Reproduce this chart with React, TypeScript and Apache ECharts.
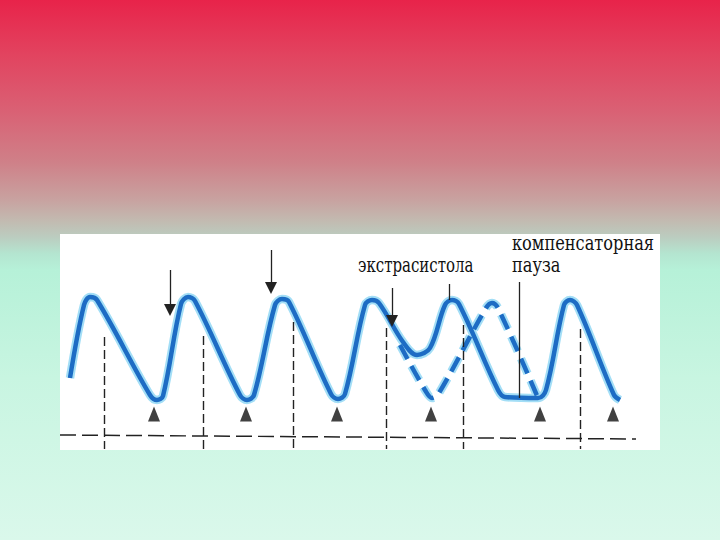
import React, { useEffect, useRef } from "react";
import * as echarts from "echarts";

const solidT = [10, 24, 30, 37, 90, 97, 103, 121, 128, 135, 180, 187, 194, 215, 222, 229, 271, 278, 285, 305, 312, 319, 343, 357, 370, 385, 392, 399, 438, 445, 478, 486, 504, 510, 517, 554, 560];
const solidV = [72, 145, 153, 150, 55, 50, 54, 146, 153, 149, 55, 50, 55, 145, 151, 148, 56, 51, 56, 145, 150, 147, 108, 95, 102, 145, 150, 146, 60, 53, 52, 60, 145, 150, 145, 55, 50];

// Expected (normal) beat, dashed
const dashT = [340, 365, 372, 379, 426, 432, 438, 478];
const dashV = [105, 60, 52, 57, 142, 147, 142, 52];

// Triangle markers under each trough
const triT = [94, 186, 277, 371, 480, 553];
const triV = [36, 36, 36, 36, 36, 36];

// Arrows (stimuli) : x, top, head
const arrowT = [110, 211, 332];
const arrowTop = [180, 200, 162];
const arrowHead = [140, 162, 129];

// Plain marker lines: x, top, bottom
const tickT = [389, 459];
const tickTop = [166, 168];
const tickBottom = [150, 52];

// Dashed vertical guides: x, top (bottom is the panel floor)
const guideT = [44, 143, 233, 326, 403, 520];
const guideTop = [113, 114, 128, 122, 125, 121];
const guideBottom = 1;

// Dashed baseline
const baseT = [0, 576];
const baseV = [15, 11];

const labelEx = "экстрасистола";
const labelPause1 = "компенсаторная";
const labelPause2 = "пауза";

export default function App() {
  const ref = useRef<HTMLDivElement>(null);
  useEffect(() => {
    if (!ref.current) return;
    const chart = echarts.init(ref.current, undefined, { renderer: "svg" });
    const solid = solidT.map((t, i) => [t, solidV[i]]);
    const dashed = dashT.map((t, i) => [t, dashV[i]]);
    const tris = triT.map((t, i) => [t, triV[i]]);
    const arrows = arrowT.map((t, i) => [
      { coord: [t, arrowTop[i]], symbol: "none" },
      { coord: [t, arrowHead[i]], symbol: "triangle", symbolRotate: 180 },
    ]);
    const ticks = tickT.map((t, i) => [
      { coord: [t, tickTop[i]] },
      { coord: [t, tickBottom[i]] },
    ]);
    const guides = guideT.map((t, i) => [
      { coord: [t, guideTop[i]] },
      { coord: [t, guideBottom] },
    ]);
    const textStyle = {
      fill: "#111",
      fontFamily: "DejaVu Serif",
      fontSize: 20,
      verticalAlign: "middle",
    };
    const glow = "#a3def6";
    const core = "#1d6cc4";
    chart.setOption({
      animation: false,
      backgroundColor: new echarts.graphic.LinearGradient(0, 0, 0, 1, [
        { offset: 0, color: "#e8234a" },
        { offset: 0.1, color: "#e2435f" },
        { offset: 0.2, color: "#da5f73" },
        { offset: 0.3, color: "#cf8088" },
        { offset: 0.37, color: "#c8a2a0" },
        { offset: 0.41, color: "#c2bbb1" },
        { offset: 0.44, color: "#bbcdc0" },
        { offset: 0.47, color: "#b4e5d0" },
        { offset: 0.5, color: "#b6f1d8" },
        { offset: 0.7, color: "#c8f5e1" },
        { offset: 1, color: "#daf8eb" },
      ]),
      grid: {
        left: 60,
        top: 234,
        width: 600,
        height: 216,
        show: true,
        backgroundColor: "#ffffff",
        borderWidth: 0,
      },
      xAxis: { type: "value", min: 0, max: 600, show: false },
      yAxis: { type: "value", min: 0, max: 216, show: false },
      graphic: [
        { type: "text", x: 358, y: 265, scaleX: 0.75, style: { ...textStyle, text: labelEx }, z: 10 },
        { type: "text", x: 512, y: 243, scaleX: 0.81, style: { ...textStyle, text: labelPause1 }, z: 10 },
        { type: "text", x: 512, y: 265, scaleX: 0.81, style: { ...textStyle, text: labelPause2 }, z: 10 },
      ],
      series: [
        {
          type: "line",
          data: baseT.map((t, i) => [t, baseV[i]]),
          symbol: "none",
          lineStyle: { color: "#222", width: 1.5, type: [16, 6] },
          markLine: {
            silent: true,
            symbol: "none",
            label: { show: false },
            lineStyle: { color: "#222", width: 1.4, type: [9, 4] },
            data: guides,
          },
          z: 1,
        },
        {
          type: "line",
          data: dashed,
          symbol: "none",
          smooth: 0.35,
          lineStyle: { color: glow, width: 8.5, type: [16, 8] },
          z: 2,
        },
        {
          type: "line",
          data: dashed,
          symbol: "none",
          smooth: 0.35,
          lineStyle: { color: core, width: 4.5, type: [16, 8] },
          z: 3,
        },
        {
          type: "line",
          data: solid,
          symbol: "none",
          smooth: 0.35,
          lineStyle: { color: glow, width: 8.5 },
          z: 2,
        },
        {
          type: "line",
          data: solid,
          symbol: "none",
          smooth: 0.35,
          lineStyle: { color: core, width: 4.5 },
          z: 3,
        },
        {
          type: "scatter",
          data: tris,
          symbol: "triangle",
          symbolSize: [12, 15],
          itemStyle: { color: "#111" },
          markLine: {
            silent: true,
            symbol: "none",
            symbolSize: 12,
            label: { show: false },
            lineStyle: { color: "#222", width: 1.3, type: "solid" },
            data: [...arrows, ...ticks],
          },
          z: 5,
        },
      ],
    });
    return () => chart.dispose();
  }, []);
  return (
    <div
      ref={ref}
      style={{ position: "fixed", left: 0, top: 0, width: 720, height: 540 }}
    />
  );
}
